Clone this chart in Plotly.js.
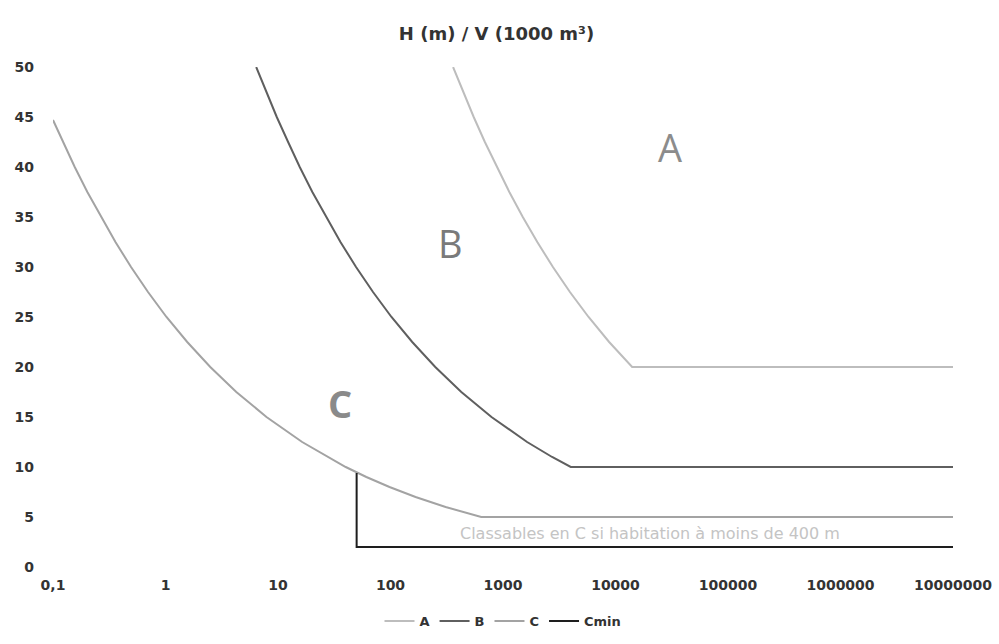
<!DOCTYPE html>
<html>
<head>
<meta charset="utf-8">
<script src="https://cdn.plot.ly/plotly-3.0.1.min.js"></script>
<style>html,body{margin:0;padding:0;background:#fff}#chart{width:999px;height:644px}</style>
</head>
<body>
<div id="chart"></div>
<script>
// Curve A (H in m, V in 1000 m3)
const aV = [360, 442, 549, 690, 879, 1138, 1499, 2017, 2778, 3934, 5760, 8779, 14063, 10000000];
const aH = [50, 47.5, 45, 42.5, 40, 37.5, 35, 32.5, 30, 27.5, 25, 22.5, 20, 20];
// Curve B
const bV = [6.4, 7.86, 9.75, 12.3, 15.6, 20.2, 26.7, 35.9, 49.4, 69.9, 102, 156, 250, 426, 790, 1638, 2732, 4000, 10000000];
const bH = [50, 47.5, 45, 42.5, 40, 37.5, 35, 32.5, 30, 27.5, 25, 22.5, 20, 17.5, 15, 12.5, 11, 10, 10];
// Curve C
const cV = [0.1, 0.123, 0.156, 0.202, 0.267, 0.359, 0.494, 0.699, 1.02, 1.56, 2.5, 4.26, 7.9, 16.4, 40, 61, 98, 167, 309, 640, 10000000];
const cH = [44.7, 42.5, 40, 37.5, 35, 32.5, 30, 27.5, 25, 22.5, 20, 17.5, 15, 12.5, 10, 9, 8, 7, 6, 5, 5];
// Cmin
const mV = [50, 50, 10000000];
const mH = [9.4, 2, 2];

const xTickVals = [0.1, 1, 10, 100, 1000, 10000, 100000, 1000000, 10000000];
const xTickText = ["0,1", "1", "10", "100", "1000", "10000", "100000", "1000000", "10000000"];
const yTickVals = [0, 5, 10, 15, 20, 25, 30, 35, 40, 45, 50];

const F = "'DejaVu Sans', sans-serif";
const traces = [
  {x: aV, y: aH, name: "A", mode: "lines", line: {color: "#bdbdbd", width: 2}},
  {x: bV, y: bH, name: "B", mode: "lines", line: {color: "#5f5f5f", width: 2}},
  {x: cV, y: cH, name: "C", mode: "lines", line: {color: "#a3a3a3", width: 2}},
  {x: mV, y: mH, name: "Cmin", mode: "lines", line: {color: "#1e1e1e", width: 2}}
];

const layout = {
  width: 999, height: 644,
  margin: {l: 53, r: 46, t: 67, b: 77, autoexpand: false},
  paper_bgcolor: "#fff", plot_bgcolor: "#fff",
  title: {text: "H (m) / V (1000 m³)", x: 0.497, xanchor: "center", y: 0.948, yanchor: "middle",
          font: {family: F, size: 18, color: "#333", weight: 700}},
  xaxis: {type: "log", range: [-1, 7], showgrid: false, zeroline: false, showline: false,
          tickmode: "array", tickvals: xTickVals, ticktext: xTickText, ticks: "",
          ticklabelstandoff: 8,
          tickfont: {family: F, size: 14, color: "#333", weight: 700}},
  yaxis: {range: [0, 50], showgrid: false, zeroline: false, showline: false,
          tickmode: "array", tickvals: yTickVals, ticks: "", ticklabelstandoff: 18,
          tickfont: {family: F, size: 14, color: "#333", weight: 700}},
  showlegend: true,
  legend: {orientation: "h", x: 0.5, xanchor: "center", y: -0.108, yanchor: "middle",
           font: {family: F, size: 13, color: "#333", weight: 700}, itemwidth: 30, tracegroupgap: 0},
  annotations: [
    {x: Math.log10(30500), y: 42, text: "A", showarrow: false, font: {family: "'Open Sans', sans-serif", size: 38, color: "#8c8c8c"}},
    {x: Math.log10(338), y: 32.4, text: "B", showarrow: false, font: {family: "'Open Sans', sans-serif", size: 38, color: "#7a7a7a"}},
    {x: Math.log10(35.6), y: 16.4, text: "C", showarrow: false, font: {family: "'Open Sans', sans-serif", size: 38, color: "#8a8a8a", weight: 700}},
    {x: Math.log10(20270), y: 3.4, text: "Classables en C si habitation à moins de 400 m", showarrow: false,
     font: {family: F, size: 16, color: "#c4c4c4"}}
  ]
};
Plotly.newPlot("chart", traces, layout, {displayModeBar: false, staticPlot: true});
</script>
</body>
</html>
